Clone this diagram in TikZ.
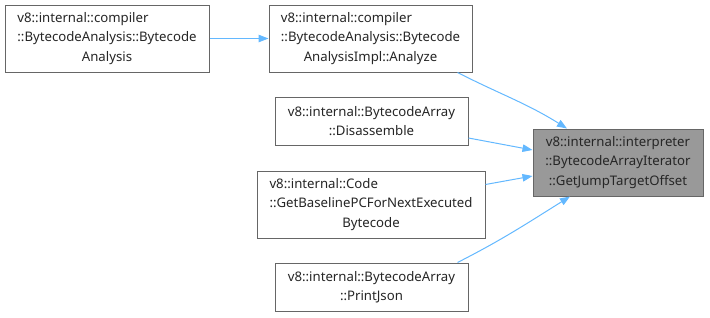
\documentclass[tikz,border=0pt]{standalone}
\usepackage{fontspec}
\setmainfont{Noto Sans}
\usetikzlibrary{arrows.meta}
\definecolor{edgeblue}{HTML}{63B8FF}
\definecolor{boxgray}{HTML}{666666}
\definecolor{hilite}{HTML}{999999}
% first line set flush left within the width of the given reference line
\newcommand{\leftln}[2]{\setbox0=\hbox{#2}\makebox[\wd0][l]{#1}}
\tikzset{
  fn/.style={draw=boxgray, line width=1pt, fill=white, align=center,
    inner sep=0pt, font=\fontsize{13.2}{19.3}\selectfont, text=black!85},
  cur/.style={fn, fill=hilite},
  edge/.style={draw=edgeblue, line width=1pt,
    -{Triangle[length=10pt,width=7.5pt]}},
}
\begin{document}
\begin{tikzpicture}[x=1pt,y=1pt]
\useasboundingbox (0,0) rectangle (710,-317);
\node[fn, minimum width=204pt, minimum height=67pt] (A) at (107,-38.5)
  {\leftln{v8::internal::compiler}{::BytecodeAnalysis::Bytecode}\\::BytecodeAnalysis::Bytecode\\Analysis};
\node[fn, minimum width=203pt, minimum height=67pt] (B) at (370.5,-38.5)
  {\leftln{v8::internal::compiler}{::BytecodeAnalysis::Bytecode}\\::BytecodeAnalysis::Bytecode\\AnalysisImpl::Analyze};
\node[fn, minimum width=193pt, minimum height=48pt] (C) at (371.5,-121)
  {v8::internal::BytecodeArray\\::Disassemble};
\node[fn, minimum width=228pt, minimum height=67pt] (D) at (371,-204.5)
  {\leftln{v8::internal::Code}{::GetBaselinePCForNextExecuted}\\::GetBaselinePCForNextExecuted\\Bytecode};
\node[fn, minimum width=193pt, minimum height=48pt] (E) at (371.5,-287)
  {v8::internal::BytecodeArray\\::PrintJson};
\node[cur, minimum width=170pt, minimum height=67pt] (T) at (618,-162.5)
  {v8::internal::interpreter\\::BytecodeArrayIterator\\::GetJumpTargetOffset};

\draw[edge] (A.east) -- (B.west);
\draw[edge] ([xshift=-15pt]B.south east) to[out=-27,in=148] ([xshift=-51pt]T.north);
\draw[edge] ([yshift=-17pt]C.east) -- ([yshift=12.5pt]T.west);
\draw[edge] ([yshift=20pt]D.east) -- ([yshift=-13.5pt]T.west);
\draw[edge] ([xshift=-11pt]E.north east) to[out=27,in=-148] ([xshift=-48pt]T.south);
\end{tikzpicture}
\end{document}
